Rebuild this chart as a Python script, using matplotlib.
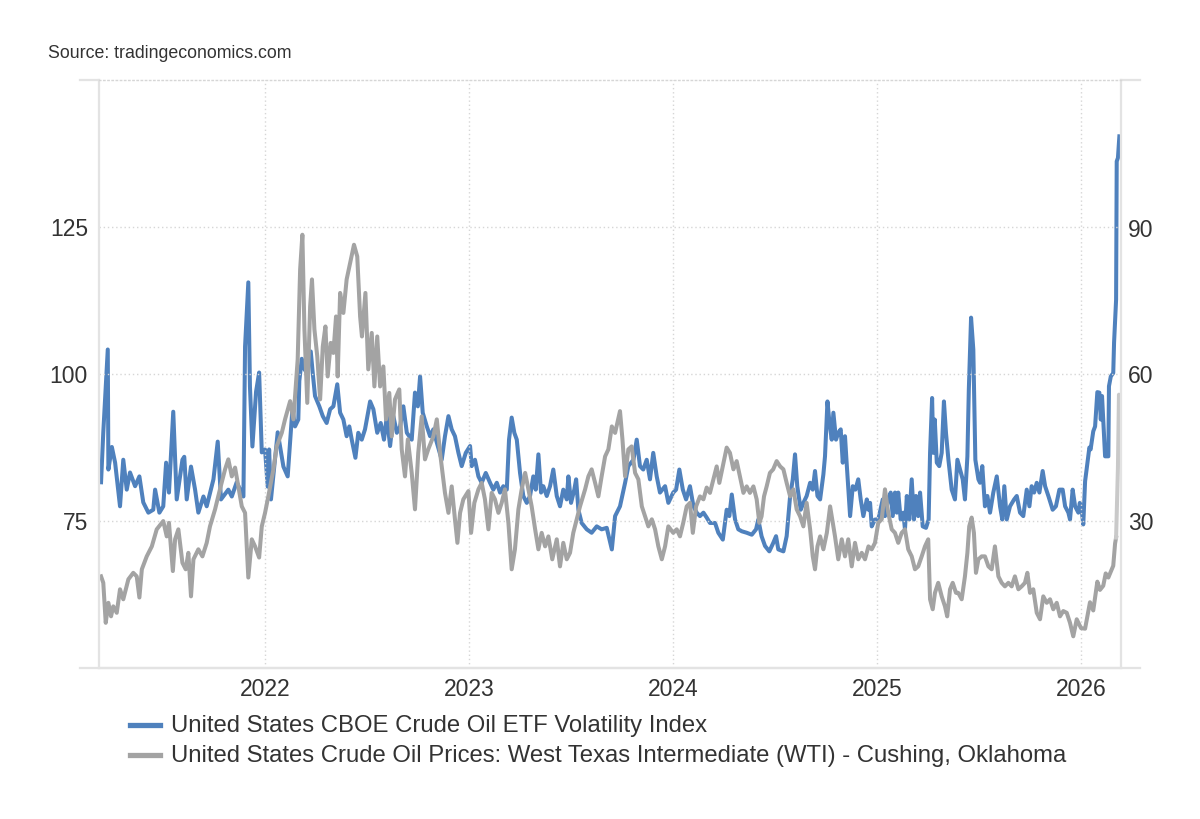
import matplotlib
matplotlib.use("Agg")
import matplotlib.pyplot as plt
from matplotlib.lines import Line2D

plt.rcParams['font.family'] = ['Liberation Sans', 'DejaVu Sans']

BLUE = "#4f81bd"
GRAY = "#a3a3a3"
GRAY_LIGHT = "#c9c9c9"
AXIS = "#e3e3e3"
GRID = "#d6d6d6"
TEXT = "#333333"

# CBOE Crude Oil ETF Volatility Index (right axis), decimal years
ovx_t = [
    2021.196, 2021.207, 2021.229, 2021.232, 2021.249, 2021.265, 2021.289, 2021.305, 2021.322, 2021.338,
    2021.363, 2021.384, 2021.403, 2021.428, 2021.452, 2021.461, 2021.482, 2021.501, 2021.515, 2021.529,
    2021.550, 2021.567, 2021.595, 2021.604, 2021.616, 2021.637, 2021.657, 2021.673, 2021.698, 2021.714,
    2021.747, 2021.768, 2021.784, 2021.820, 2021.837, 2021.861, 2021.894, 2021.902, 2021.918, 2021.926,
    2021.938, 2021.956, 2021.971, 2021.984, 2022.000, 2022.013, 2022.020, 2022.029, 2022.062, 2022.090,
    2022.111, 2022.134, 2022.147, 2022.163,
    2022.168, 2022.180, 2022.191, 2022.204, 2022.224, 2022.234, 2022.245, 2022.266, 2022.283, 2022.302,
    2022.319, 2022.335, 2022.354, 2022.368, 2022.384, 2022.400, 2022.413, 2022.425, 2022.443, 2022.457,
    2022.474, 2022.490, 2022.515, 2022.531, 2022.550, 2022.567, 2022.583, 2022.597, 2022.613, 2022.629,
    2022.646, 2022.662, 2022.678, 2022.695, 2022.719, 2022.735, 2022.749, 2022.760, 2022.773, 2022.793,
    2022.809, 2022.825, 2022.842, 2022.866, 2022.882, 2022.899, 2022.915, 2022.931, 2022.948, 2022.964,
    2022.984,
    2023.005, 2023.013, 2023.029, 2023.046, 2023.062, 2023.082, 2023.103, 2023.119, 2023.136, 2023.152,
    2023.168, 2023.185, 2023.196, 2023.209, 2023.222, 2023.234, 2023.250, 2023.266, 2023.283, 2023.299,
    2023.315, 2023.327, 2023.340, 2023.353, 2023.364, 2023.381, 2023.397, 2023.413, 2023.430, 2023.446,
    2023.462, 2023.479, 2023.487, 2023.500, 2023.516, 2023.525, 2023.536, 2023.552, 2023.577, 2023.601,
    2023.626, 2023.650, 2023.675, 2023.700, 2023.716, 2023.740, 2023.765, 2023.781, 2023.806, 2023.822,
    2023.838, 2023.854, 2023.871, 2023.887, 2023.903, 2023.920, 2023.936, 2023.961, 2023.977, 2024.001,
    2024.015, 2024.031, 2024.048, 2024.064, 2024.083, 2024.100, 2024.116, 2024.132, 2024.149, 2024.165,
    2024.181, 2024.206, 2024.222, 2024.244, 2024.263, 2024.276, 2024.288, 2024.304, 2024.320, 2024.337,
    2024.361, 2024.386, 2024.407, 2024.418, 2024.434, 2024.451, 2024.472, 2024.491, 2024.505, 2024.516,
    2024.541, 2024.557, 2024.574, 2024.587, 2024.598, 2024.609, 2024.626, 2024.639, 2024.655, 2024.672,
    2024.685, 2024.696, 2024.708, 2024.721, 2024.737, 2024.745, 2024.757, 2024.767, 2024.778, 2024.786,
    2024.799, 2024.810, 2024.822, 2024.832, 2024.843, 2024.851, 2024.868, 2024.881, 2024.894, 2024.908,
    2024.920, 2024.933, 2024.950, 2024.958, 2024.966, 2024.974, 2024.990, 2025.006,
    2025.028, 2025.039, 2025.055, 2025.067, 2025.077, 2025.088, 2025.097, 2025.104, 2025.116, 2025.129,
    2025.137, 2025.146, 2025.158, 2025.170, 2025.181, 2025.191, 2025.202, 2025.211, 2025.224, 2025.240,
    2025.253, 2025.260, 2025.270, 2025.276, 2025.283, 2025.293, 2025.305, 2025.317, 2025.328, 2025.338,
    2025.350, 2025.366, 2025.382, 2025.394, 2025.407, 2025.420, 2025.431, 2025.443, 2025.450, 2025.461,
    2025.472, 2025.482, 2025.497, 2025.505, 2025.516, 2025.529, 2025.541, 2025.554, 2025.570, 2025.587,
    2025.603, 2025.614, 2025.624, 2025.636, 2025.652, 2025.672, 2025.685, 2025.701, 2025.717, 2025.734,
    2025.747, 2025.758, 2025.770, 2025.783, 2025.796, 2025.812, 2025.824, 2025.840, 2025.861, 2025.877,
    2025.894, 2025.910, 2025.922, 2025.938, 2025.946, 2025.959, 2025.971, 2025.987,
    2025.994, 2026.003, 2026.011, 2026.020, 2026.041, 2026.047, 2026.060, 2026.069, 2026.080, 2026.090,
    2026.097, 2026.103, 2026.118, 2026.134, 2026.137, 2026.146, 2026.158, 2026.162, 2026.172, 2026.175,
    2026.181, 2026.188,
]
ovx_v = [
    37.8, 48.0, 64.9, 40.4, 45.0, 41.8, 32.9, 42.4, 36.3, 39.8,
    37.0, 39.0, 33.7, 31.6, 32.2, 36.3, 31.6, 32.9, 41.8, 35.7,
    52.2, 34.3, 42.4, 43.0, 34.3, 41.0, 36.3, 31.6, 34.9, 32.9,
    38.4, 46.1, 34.3, 36.3, 34.9, 37.8, 34.9, 65.5, 78.6, 57.3,
    45.1, 56.3, 60.2, 43.9, 44.5, 36.9, 44.5, 34.3, 48.0, 41.0,
    39.0, 52.7, 49.2, 50.6,
    58.5, 63.0, 61.0, 60.2, 64.5, 60.0, 55.4, 53.3, 51.3, 49.9,
    52.7, 53.3, 57.8, 52.0, 50.6, 47.2, 49.2, 46.5, 42.8, 47.9,
    46.5, 48.6, 54.3, 52.7, 47.9, 49.9, 46.5, 51.3, 45.2, 51.3,
    47.9, 49.2, 53.3, 47.9, 46.5, 56.1, 53.3, 59.4, 52.0, 49.2,
    47.2, 48.6, 45.9, 42.4, 47.2, 51.3, 48.6, 47.2, 43.8, 41.1,
    43.8,
    45.2, 41.1, 42.4, 39.0, 37.7, 39.7, 37.7, 36.3, 37.7, 35.7,
    37.0, 36.3, 46.5, 51.0, 47.9, 46.5, 39.7, 35.0, 33.6, 35.0,
    39.0, 36.3, 43.5, 35.7, 37.0, 35.0, 37.0, 40.4, 35.0, 32.9,
    36.3, 34.3, 39.0, 33.6, 36.3, 38.4, 32.2, 29.5, 28.2, 27.5,
    28.8, 28.2, 28.5, 24.1, 30.9, 32.9, 37.7, 41.1, 42.4, 46.5,
    41.1, 40.4, 42.4, 38.4, 43.8, 39.0, 35.7, 37.0, 33.6, 35.7,
    36.3, 40.4, 36.3, 34.3, 37.0, 32.9, 31.6, 30.9, 31.6, 30.6,
    29.5, 29.5, 27.5, 26.1, 32.2, 30.9, 35.3, 30.2, 28.2, 27.8,
    27.5, 27.1, 28.2, 30.2, 26.8, 24.8, 23.7, 25.4, 26.8, 24.1,
    23.7, 26.8, 35.0, 38.4, 43.5, 37.0, 32.2, 33.6, 35.0, 37.7,
    36.3, 40.1, 35.0, 34.3, 39.4, 43.1, 54.3, 49.9, 46.5, 52.0,
    46.5, 47.9, 48.6, 41.8, 47.2, 41.8, 30.9, 37.0, 36.3, 38.4,
    34.3, 30.9, 34.3, 32.2, 33.6, 28.8, 30.2, 30.2,
    34.3, 30.9, 34.3, 35.7, 30.9, 35.7, 31.6, 35.7, 30.2, 31.6,
    28.2, 35.0, 30.2, 38.4, 30.2, 35.0, 30.9, 35.7, 28.8, 28.5,
    30.2, 43.8, 55.0, 43.8, 50.6, 41.8, 41.1, 43.8, 54.3, 47.9,
    42.4, 36.3, 34.3, 42.4, 40.4, 38.4, 34.3, 43.1, 56.7, 71.4,
    64.9, 42.4, 38.4, 37.7, 41.1, 32.9, 35.0, 31.6, 35.7, 39.0,
    32.9, 30.2, 37.0, 30.2, 32.9, 34.3, 35.0, 31.6, 30.9, 36.3,
    32.9, 37.0, 35.7, 37.7, 35.7, 40.1, 37.0, 35.0, 32.2, 32.9,
    36.3, 36.3, 32.9, 31.6, 30.2, 36.3, 32.9, 31.6,
    33.6, 32.2, 29.2, 38.0, 44.9, 44.5, 48.2, 49.2, 56.2, 56.1,
    50.6, 55.4, 43.1, 43.1, 57.4, 59.4, 60.1, 66.3, 75.1, 103.3,
    104.0, 108.4,
]

# WTI crude oil price, Cushing (left axis), decimal years
wti_t = [
    2021.196, 2021.207, 2021.219, 2021.232, 2021.245, 2021.256, 2021.273, 2021.289, 2021.305, 2021.330,
    2021.354, 2021.371, 2021.384, 2021.396, 2021.420, 2021.445, 2021.469, 2021.501, 2021.518, 2021.529,
    2021.548, 2021.559, 2021.575, 2021.595, 2021.611, 2021.624, 2021.637, 2021.649, 2021.673, 2021.693,
    2021.714, 2021.730, 2021.755, 2021.779, 2021.804, 2021.820, 2021.837, 2021.853, 2021.869, 2021.886,
    2021.902, 2021.918, 2021.935, 2021.951, 2021.971, 2021.984, 2022.000, 2022.016, 2022.041, 2022.057,
    2022.082, 2022.098, 2022.123, 2022.139, 2022.160, 2022.172, 2022.183,
    2022.193, 2022.207, 2022.221, 2022.230, 2022.242, 2022.256, 2022.270, 2022.283, 2022.296, 2022.307,
    2022.322, 2022.335, 2022.348, 2022.356, 2022.368, 2022.384, 2022.400, 2022.417, 2022.436, 2022.452,
    2022.466, 2022.475, 2022.492, 2022.506, 2022.523, 2022.536, 2022.550, 2022.564, 2022.580, 2022.593,
    2022.609, 2022.621, 2022.637, 2022.658, 2022.670, 2022.686, 2022.700, 2022.719, 2022.735, 2022.751,
    2022.768, 2022.784, 2022.800, 2022.825, 2022.842, 2022.858, 2022.882, 2022.899, 2022.915, 2022.931,
    2022.943, 2022.956, 2022.972, 2022.997,
    2023.010, 2023.026, 2023.046, 2023.062, 2023.078, 2023.095, 2023.111, 2023.127, 2023.144, 2023.160,
    2023.176, 2023.193, 2023.209, 2023.225, 2023.242, 2023.258, 2023.275, 2023.291, 2023.307, 2023.324,
    2023.340, 2023.356, 2023.373, 2023.389, 2023.408, 2023.430, 2023.446, 2023.462, 2023.479, 2023.495,
    2023.511, 2023.528, 2023.544, 2023.569, 2023.585, 2023.601, 2023.618, 2023.634, 2023.650, 2023.667,
    2023.683, 2023.700, 2023.716, 2023.740, 2023.752, 2023.765, 2023.781, 2023.797, 2023.814, 2023.830,
    2023.847, 2023.863, 2023.879, 2023.896, 2023.912, 2023.928, 2023.945, 2023.961, 2023.977, 2024.001,
    2024.018, 2024.034, 2024.050, 2024.067, 2024.083, 2024.097, 2024.113, 2024.132, 2024.149, 2024.165,
    2024.181, 2024.198, 2024.214, 2024.227, 2024.244, 2024.263, 2024.279, 2024.296, 2024.312, 2024.328,
    2024.345, 2024.361, 2024.377, 2024.394, 2024.410, 2024.423, 2024.434, 2024.446, 2024.459, 2024.475,
    2024.491, 2024.508, 2024.525, 2024.541, 2024.557, 2024.574, 2024.590, 2024.606, 2024.623, 2024.639,
    2024.655, 2024.672, 2024.685, 2024.696, 2024.708, 2024.721, 2024.737, 2024.754, 2024.770, 2024.783,
    2024.794, 2024.810, 2024.827, 2024.843, 2024.859, 2024.876, 2024.892, 2024.908, 2024.925, 2024.941,
    2024.958, 2024.974, 2024.990, 2025.006,
    2025.023, 2025.039, 2025.055, 2025.072, 2025.088, 2025.104, 2025.121, 2025.137, 2025.153, 2025.170,
    2025.186, 2025.202, 2025.219, 2025.235, 2025.251, 2025.260, 2025.273, 2025.284, 2025.300, 2025.317,
    2025.333, 2025.344, 2025.358, 2025.371, 2025.387, 2025.398, 2025.415, 2025.431, 2025.443, 2025.452,
    2025.464, 2025.475, 2025.485, 2025.497, 2025.513, 2025.529, 2025.546, 2025.562, 2025.578, 2025.595,
    2025.611, 2025.627, 2025.644, 2025.660, 2025.676, 2025.693, 2025.709, 2025.725, 2025.737, 2025.750,
    2025.766, 2025.783, 2025.799, 2025.815, 2025.832, 2025.848, 2025.864, 2025.881, 2025.897, 2025.913,
    2025.930, 2025.946, 2025.962, 2025.979,
    2026.000, 2026.020, 2026.044, 2026.060, 2026.080, 2026.093, 2026.109, 2026.121, 2026.134, 2026.158,
    2026.167, 2026.172,
]
wti_v = [
    65.5, 64.4, 57.6, 61.0, 58.7, 60.4, 59.3, 63.3, 61.6, 65.0,
    66.1, 65.5, 61.9, 66.7, 68.9, 70.6, 73.5, 74.9, 72.3, 74.6,
    66.4, 71.8, 73.5, 67.8, 66.7, 69.5, 62.1, 68.4, 70.1, 68.9,
    71.2, 74.0, 76.9, 80.3, 83.7, 85.4, 82.5, 84.0, 80.8, 77.4,
    76.3, 65.3, 71.8, 70.6, 68.7, 74.0, 76.3, 79.1, 83.7, 87.6,
    89.9, 92.2, 95.3, 92.2, 102.4, 117.7, 123.6,
    107.5, 95.0, 111.4, 116.0, 107.5, 102.9, 95.6, 104.6, 108.0, 99.5,
    105.2, 103.5, 109.7, 99.5, 113.7, 110.3, 116.0, 118.8, 121.9, 119.9,
    109.7, 106.3, 113.7, 100.7, 106.9, 97.8, 106.3, 97.8, 101.2, 92.2,
    96.7, 89.3, 95.6, 97.3, 87.1, 82.5, 88.8, 83.1, 76.9, 86.5,
    92.7, 85.4, 87.1, 89.3, 92.2, 86.5, 79.7, 76.3, 80.8, 75.2,
    71.2, 76.3, 78.6, 80.0,
    72.9, 78.0, 80.3, 81.4, 78.6, 73.5, 79.7, 78.6, 76.3, 78.0,
    80.3, 74.6, 66.7, 70.1, 76.9, 80.3, 83.1, 80.3, 77.4, 73.5,
    70.1, 72.9, 70.6, 72.3, 68.4, 71.8, 67.2, 71.2, 68.4, 69.5,
    72.9, 75.2, 77.4, 80.3, 82.5, 83.7, 81.4, 79.1, 82.5, 85.9,
    87.1, 91.0, 89.9, 93.6, 88.8, 82.5, 87.1, 87.6, 83.1, 82.0,
    77.4, 75.7, 74.0, 75.2, 73.5, 70.6, 68.4, 70.6, 74.0, 72.9,
    73.5, 72.3, 74.6, 77.4, 78.0, 72.9, 77.4, 79.1, 78.6, 80.6,
    79.7, 82.0, 84.2, 81.4, 84.2, 87.4, 86.5, 83.7, 85.1, 82.5,
    79.7, 80.8, 79.7, 80.8, 78.6, 74.6, 75.7, 79.1, 80.8, 83.1,
    83.7, 85.1, 84.2, 83.7, 81.4, 79.1, 80.3, 76.9, 75.7, 74.0,
    78.0, 73.5, 68.9, 66.7, 70.6, 72.3, 70.1, 72.9, 77.4, 74.6,
    72.3, 68.4, 71.8, 68.9, 71.8, 67.2, 71.2, 68.4, 69.5, 68.4,
    70.6, 70.1, 71.2, 74.6,
    75.2, 80.3, 76.3, 73.5, 72.9, 71.2, 72.9, 73.5, 70.1, 68.9,
    66.7, 67.2, 68.9, 70.6, 71.8, 61.6, 59.9, 62.7, 64.4, 62.1,
    60.4, 58.7, 63.3, 64.4, 62.7, 62.7, 61.6, 65.5, 69.5, 74.0,
    75.5, 72.9, 66.1, 68.4, 68.9, 68.9, 67.2, 66.7, 70.6, 65.5,
    64.4, 63.8, 64.4, 63.8, 65.5, 63.3, 63.8, 64.4, 66.1, 62.7,
    63.3, 59.3, 58.2, 62.1, 61.0, 61.6, 59.9, 61.0, 58.7, 59.6,
    59.3, 57.6, 55.3, 58.2,
    56.7, 56.6, 61.1, 59.7, 64.6, 63.2, 63.9, 66.0, 65.3, 67.3,
    71.1, 72.1,
]

# latest WTI move, drawn in a lighter gray
wti_tail_t = [2026.172, 2026.181, 2026.186, 2026.191]
wti_tail_v = [72.1, 84.0, 96.4, 92.5]

year_ticks = [2022, 2023, 2024, 2025, 2026]
left_ticks = [75, 100, 125]
right_ticks = [30, 60, 90]

series_labels = [
    "United States CBOE Crude Oil ETF Volatility Index",
    "United States Crude Oil Prices: West Texas Intermediate (WTI) - Cushing, Oklahoma",
]

W, H = 1200, 820
fig = plt.figure(figsize=(W / 100, H / 100), dpi=100)
fig.patch.set_facecolor("white")

# plot area in pixels: x 99..1121, y 80.5..668.5
px_l, px_r, px_t, px_b = 99, 1121, 80.5, 668.5
ax = fig.add_axes([px_l / W, 1 - px_b / H, (px_r - px_l) / W, (px_b - px_t) / H])
ax2 = ax.twinx()

# gray on top of blue
ax.set_zorder(ax2.get_zorder() + 1)
ax.patch.set_visible(False)

LW = 2.9
ax2.plot(ovx_t, ovx_v, color=BLUE, lw=LW, solid_joinstyle="round")
ax.plot(wti_t, wti_v, color=GRAY, lw=LW, solid_joinstyle="round")
ax.plot(wti_tail_t, wti_tail_v, color=GRAY_LIGHT, lw=LW, solid_joinstyle="round")

ax.set_xlim(2021.186, 2026.196)
ax.set_ylim(50, 150)
ax2.set_ylim(0, 120)

ax.set_xticks(year_ticks)
ax.set_xticklabels([str(y) for y in year_ticks])
ax.set_yticks(left_ticks)
ax2.set_yticks(right_ticks)

ax.tick_params(axis="x", length=0, pad=7, labelsize=16.5, labelcolor=TEXT)
ax.tick_params(axis="y", length=0, pad=8, labelsize=16.5, labelcolor=TEXT)
ax2.tick_params(axis="y", length=0, pad=5, labelsize=16.5, labelcolor=TEXT)

ax.grid(True, color=GRID, linestyle=(0, (1, 2)), lw=1.0)

for s in ax2.spines.values():
    s.set_visible(False)
for name in ["left", "right", "bottom"]:
    ax.spines[name].set_color(AXIS)
    ax.spines[name].set_linewidth(1.6)
ax.spines["top"].set_color(GRID)
ax.spines["top"].set_linestyle((0, (1, 2)))
ax.spines["top"].set_linewidth(1.0)

# short axis-line stubs beyond the plot area
ext = 19 / (px_r - px_l)
ax.plot([-ext, 1 + ext], [0, 0], transform=ax.transAxes, color=AXIS, lw=1.6, clip_on=False)
ax.plot([-ext, 0], [1, 1], transform=ax.transAxes, color=AXIS, lw=1.6, clip_on=False)
ax.plot([1, 1 + ext], [1, 1], transform=ax.transAxes, color=AXIS, lw=1.6, clip_on=False)

fig.text(48 / W, 1 - 53 / H, "Source: tradingeconomics.com", fontsize=12.8,
         color=TEXT, ha="left", va="center")

# legend
for i, (label, color) in enumerate(zip(series_labels, [BLUE, GRAY])):
    yy = 1 - (726 + 30 * i) / H
    fig.add_artist(Line2D([130 / W, 160 / W], [yy, yy], color=color, lw=3.8))
    fig.text(171 / W, yy, label, fontsize=17.2, color=TEXT, ha="left", va="center")

fig.savefig("out.png", dpi=100, facecolor="white")
